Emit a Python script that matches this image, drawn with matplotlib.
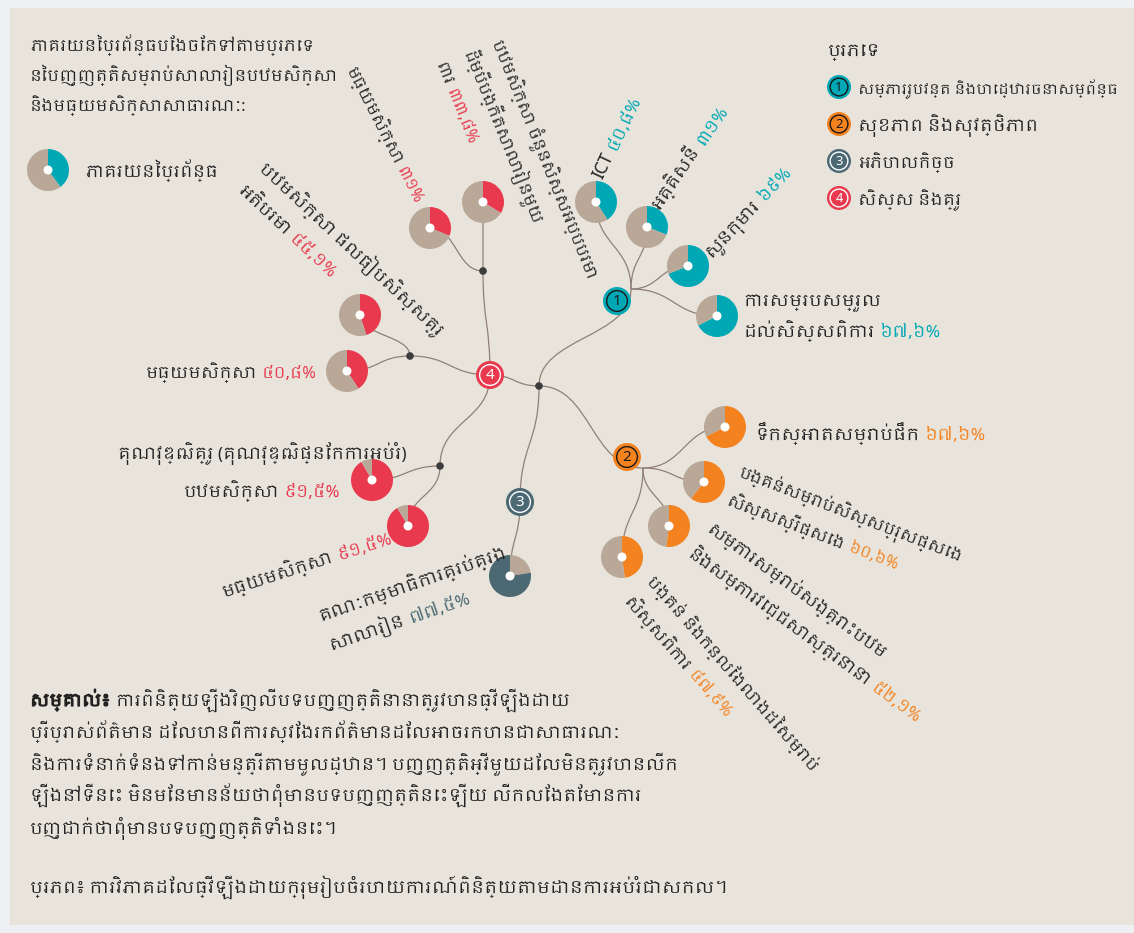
import numpy as np
import matplotlib
matplotlib.use('Agg')
import matplotlib.pyplot as plt
from matplotlib import font_manager, patheffects
from matplotlib.font_manager import FontProperties
from matplotlib.patches import Rectangle, Circle, PathPatch
from matplotlib.path import Path

W, H = 1134, 933

# khmer font if there is one, else fall back
khmer = [f.name for f in font_manager.fontManager.ttflist if 'Khmer' in f.name]
FAMILY = khmer[:1] + ['Noto Sans', 'DejaVu Sans']
FS = 12.5
SLACK = 1.05

# ---------------- data ----------------
title_lines = ['ភាគរយនៃប្រព័ន្ធបែងចែកទៅតាមប្រភេទ',
               'នៃបញ្ញត្តិសម្រាប់សាលារៀនបឋមសិក្សា',
               'និងមធ្យមសិក្សាសាធារណៈ:']
key_label = 'ភាគរយនៃប្រព័ន្ធ'
key_value = 40
legend_title = 'ប្រភេទ'
group_names = ['សម្ភាររូបវន្ត និងហេដ្ឋារចនាសម្ព័ន្ធ', 'សុខភាព និងសុវត្ថិភាព',
               'អភិបាលកិច្ច', 'សិស្ស និងគ្រូ']

item_labels = ['ICT', 'អគ្គិសនី', 'សួនកុមារ', 'ការសម្របសម្រួល\nដល់សិស្សពិការ',
               'ទឹកស្អាតសម្រាប់ផឹក', 'បង្គន់សម្រាប់សិស្សប្រុសផ្សេង\nសិស្សស្រីផ្សេង',
               'សម្ភារសម្រាប់សង្គ្រោះបឋម\nនិងសម្ភារវេជ្ជសាស្ត្រនានា',
               'បង្គន់ និងកន្លែងលាងដៃសម្រាប់\nសិស្សពិការ',
               'គណៈកម្មាធិការគ្រប់គ្រង\nសាលារៀន',
               'មធ្យមសិក្សា', 'បឋមសិក្សា ចំនួនសិស្សអប្បបរមា\nដើម្បីបង្កើតសាលារៀនមួយ\nពារ',
               'បឋមសិក្សា ផលធៀបសិស្សគ្រូ\nអតិបរមា', 'មធ្យមសិក្សា',
               'គុណវុឌ្ឍិគ្រូ (គុណវុឌ្ឍិផ្នែកការអប់រំ)\nបឋមសិក្សា', 'មធ្យមសិក្សា']
item_values = [40.8, 31, 69, 67.6, 67.6, 60.6, 52.1, 47.9, 77.5,
               31, 33.8, 45.1, 40.8, 91.5, 91.5]
item_group = [0, 0, 0, 0, 1, 1, 1, 1, 2, 3, 3, 3, 3, 3, 3]

note_lines = [[('សម្គាល់៖', 'bold'), ('ការពិនិត្យឡើងវិញលើបទបញ្ញត្តិនានាត្រូវបានធ្វើឡើងដោយ', 'normal')],
              [('ប្រើប្រាស់ព័ត៌មាន ដែលបានពីការស្វែងរកព័ត៌មានដែលអាចរកបានជាសាធារណៈ', 'normal')],
              [('និងការទំនាក់ទំនងទៅកាន់មន្ត្រីតាមមូលដ្ឋាន។ បញ្ញត្តិអ្វីមួយដែលមិនត្រូវបានលើក', 'normal')],
              [('ឡើងនៅទីនេះ មិនមែនមានន័យថាពុំមានបទបញ្ញត្តិនេះឡើយ លើកលែងតែមានការ', 'normal')],
              [('បញ្ជាក់ថាពុំមានបទបញ្ញត្តិទាំងនេះ។', 'normal')]]
source_line = 'ប្រភព៖ ការវិភាគដែលធ្វើឡើងដោយក្រុមរៀបចំរបាយការណ៍ពិនិត្យតាមដានការអប់រំជាសកល។'

# ---------------- style / layout ----------------
group_colors = ['#00a7b5', '#f4821f', '#4b6873', '#e8394e']
ring_colors = ['#1a1a1a', '#1a1a1a', 'white', 'white']
pie_rest = '#b9a897'
line_col = '#8f8076'
bg = '#e8e4db'
ink = '#222222'

root = (539, 386)
node_xy = [(617, 301), (627, 457), (520, 502), (490, 375)]
red_dots = [(483, 271), (410, 356), (440, 466)]
pie_xy = [(596, 202), (647, 227), (688, 266), (717, 316),
          (725, 427), (704, 482), (669, 526), (622, 557),
          (510, 576),
          (430, 228), (483, 202), (360, 315), (347, 371), (372, 480), (408, 526)]
# where each pie's connector starts, and how it bends
pie_from = [(631, 289)] * 4 + [(643, 468)] * 4 + [(520, 502)] + \
           [red_dots[0]] * 2 + [red_dots[1]] * 2 + [red_dots[2]] * 2
pie_bend = ['v', 'v', 'h', 'h', 'h', 'h', 'v', 'v', 'v', 'h', 'v', 'v', 'h', 'h', 'v']
label_xy = [(602, 180), (660, 210), (711, 258), (743, 306),
            (755, 440), (737, 476), (705, 532), (646, 582),
            (321, 621),
            (414, 205), (492, 42), (258, 170), (316, 378), (262, 459), (224, 597)]
label_rot = [65, 56, 47, 0, 0, -21, -36, -49, 19, -63, -68, -43, 0, 0, 18]
label_ha = ['left'] * 9 + ['right', 'left', 'left', 'right', 'center', 'left']
label_step = [31] * 13 + [38, 31]
# roughly how long each line runs in the reference (px); text is drawn unshaped so it runs wide
label_fit = [[103], [118], [133], [137, 195], [228], [227, 187], [208, 272], [241, 160],
             [197, 162], [144], [244, 206, 111], [233, 149], [163], [276, 162], [169]]
title_fit = [275, 295, 235]
legend_fit = [247, 172, 92, 99]
note_fit = [522, 605, 617, 624, None]

fig = plt.figure(figsize=(W / 100, H / 100), dpi=100)
fig.patch.set_facecolor('#eef0f3')
ax = fig.add_axes([0, 0, 1, 1])
renderer = fig.canvas.get_renderer()
bold_fx = [patheffects.withStroke(linewidth=0.9, foreground=ink)]


def P(x, y):
    return x, H - y


def kh(v):
    s = ('%g' % v).replace('.', ',')
    return s.translate(str.maketrans('0123456789', '០១២៣៤៥៦៧៨៩')) + '%'


def tw(s, size):
    fp = FontProperties(family=FAMILY, size=size)
    return renderer.get_text_width_height_descent(s, fp, ismath=False)[0]


def widths(parts, size):
    ws = np.array([tw(p[0], size) for p in parts])
    gap = 0.28 * size * 100 / 72
    return ws, gap, ws.sum() + gap * (len(parts) - 1)


def fit_size(lines, fits):
    # one size for a whole block, small enough that no line runs much past its fit
    s = FS
    for parts, f in zip(lines, fits):
        if f:
            s = min(s, FS * f * SLACK / widths(parts, FS)[2])
    return s


def put_line(x, y, parts, rot=0, ha='left', size=FS):
    th = np.radians(rot)
    d = np.array([np.cos(th), -np.sin(th)])
    ws, gap, total = widths(parts, size)
    pos = np.array([x, y], float) - {'left': 0, 'center': total / 2, 'right': total}[ha] * d
    for p, w in zip(parts, ws):
        bold = len(p) > 2 and p[2] == 'bold'
        ax.text(*P(*pos), p[0], color=p[1], fontsize=size, rotation=rot,
                rotation_mode='anchor', ha='left', va='baseline', family=FAMILY,
                path_effects=bold_fx if bold else None, zorder=5)
        pos = pos + (w + gap) * d


def curve(p0, p1, bend):
    (x0, y0), (x1, y1) = p0, p1
    if bend == 'h':
        c1, c2 = (x0 + (x1 - x0) * 0.5, y0), (x0 + (x1 - x0) * 0.5, y1)
    else:
        c1, c2 = (x0, y0 + (y1 - y0) * 0.5), (x1, y0 + (y1 - y0) * 0.5)
    verts = [P(*p0), P(*c1), P(*c2), P(*p1)]
    path = Path(verts, [Path.MOVETO, Path.CURVE4, Path.CURVE4, Path.CURVE4])
    ax.add_patch(PathPatch(path, fc='none', ec=line_col, lw=0.9, zorder=1))


def pie(x, y, v, col, r=21, colour_first=True):
    vals, cols = ([v, 100 - v], [col, pie_rest]) if colour_first else ([100 - v, v], [pie_rest, col])
    w, _ = ax.pie(vals, colors=cols, startangle=90, counterclock=False,
                  center=P(x, y), radius=r, wedgeprops=dict(linewidth=0))
    for ww in w:
        ww.set_zorder(2)
    ax.add_patch(Circle(P(x, y), 4.5, fc='white', ec='none', zorder=3))


def node(x, y, g, r=14):
    ax.add_patch(Circle(P(x, y), r, fc=group_colors[g], ec='none', zorder=3))
    ax.add_patch(Circle(P(x, y), r * 0.74, fc='none', ec=ring_colors[g], lw=1.0, zorder=4))
    ax.text(*P(x, y + 0.5), str(g + 1), color=ring_colors[g], fontsize=r * 0.78,
            ha='center', va='center', family=['Noto Sans'], zorder=5)


ax.add_patch(Rectangle((10, 8), W - 10, H - 16, fc=bg, ec='none', zorder=0))

# tree
curve(root, (631, 289), 'v')
curve(root, (643, 468), 'h')
curve(root, node_xy[2], 'v')
curve(root, node_xy[3], 'h')
curve(node_xy[3], red_dots[0], 'v')
curve(node_xy[3], red_dots[1], 'h')
curve(node_xy[3], red_dots[2], 'v')
for i in range(len(item_values)):
    curve(pie_from[i], pie_xy[i], pie_bend[i])
for dx, dy in [root] + red_dots:
    ax.add_patch(Circle(P(dx, dy), 3.8, fc='#3c3c3c', ec='none', zorder=3))
for g, (nx, ny) in enumerate(node_xy):
    node(nx, ny, g)

# pies and labels
for i, v in enumerate(item_values):
    g = item_group[i]
    pie(*pie_xy[i], v, group_colors[g], colour_first=(g != 2))
    lines = [[(s, ink)] for s in item_labels[i].split('\n')]
    lines[-1].append((kh(v), group_colors[g]))
    size = fit_size(lines, label_fit[i])
    th = np.radians(label_rot[i])
    down = np.array([np.sin(th), np.cos(th)])
    for k, parts in enumerate(lines):
        px, py = np.array(label_xy[i], float) + k * label_step[i] * down
        put_line(px, py, parts, label_rot[i], label_ha[i], size)

# title and key
t_lines = [[(s, ink)] for s in title_lines]
size = fit_size(t_lines, title_fit)
for k, parts in enumerate(t_lines):
    put_line(30, 51 + k * 30, parts, size=size)
pie(48, 170, key_value, group_colors[0])
put_line(85, 177, [(key_label, ink)], size=fit_size([[(key_label, ink)]], [127]))

# legend
put_line(828, 56, [(legend_title, ink)], size=fit_size([[(legend_title, ink)]], [52]))
for g, name in enumerate(group_names):
    node(839, 87 + g * 37, g, r=12)
    put_line(858, 94 + g * 37, [(name, ink)], size=fit_size([[(name, ink)]], [legend_fit[g]]))

# note and source
n_lines = [[(s, ink, wt) for s, wt in parts] for parts in note_lines]
size = fit_size(n_lines, note_fit)
for k, parts in enumerate(n_lines):
    put_line(30, 706 + k * 32, parts, size=size)
put_line(30, 893, [(source_line, ink)], size=fit_size([[(source_line, ink)]], [710]))

ax.set_xlim(0, W)
ax.set_ylim(0, H)
ax.set_aspect('equal')
ax.axis('off')
fig.savefig('out.png', dpi=100, facecolor=fig.get_facecolor())
